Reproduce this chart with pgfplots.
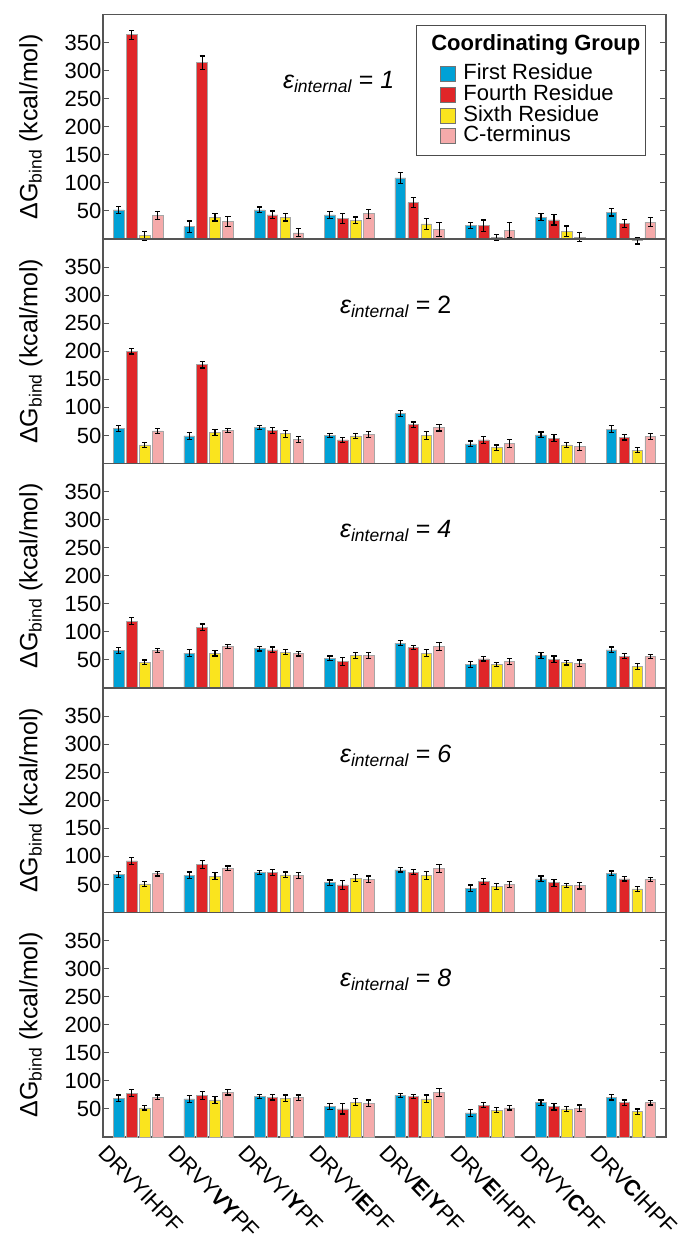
\documentclass[border=0pt]{standalone}
\usepackage{pgfplots}
\pgfplotsset{compat=1.18}
\usepackage{pgfplotstable}
\usepackage{fontspec}
\setmainfont{Liberation Sans}

\definecolor{cBlue}{RGB}{0,161,214}
\definecolor{cRed}{RGB}{224,38,40}
\definecolor{cYel}{RGB}{250,228,30}
\definecolor{cPink}{RGB}{245,170,170}
\definecolor{axgray}{RGB}{85,85,85}

% columns: x, first, err, fourth, err, sixth, err, cterm, err
\pgfplotstableread{
x b be r re y ye p pe
1 52 6 364 8 6 8 42 7
2 22 10 314 12 39 7 31 9
3 52 5 43 7 39 7 11 7
4 43 6 36 9 33 6 45 8
5 109 10 65 9 27 10 17 13
6 24 6 24 10 3 5 16 13
7 39 6 34 9 14 9 3 8
8 48 7 28 7 -3 6 30 8
}\tA
\pgfplotstableread{
x b be r re y ye p pe
1 62 5 200 5 33 4 58 4
2 49 6 176 6 55 5 59 4
3 64 4 59 5 53 6 43 5
4 50 4 42 5 49 5 52 5
5 89 5 69 5 50 7 64 6
6 35 5 42 6 28 5 36 7
7 51 5 45 6 33 5 30 7
8 61 6 47 5 24 5 48 5
}\tB
\pgfplotstableread{
x b be r re y ye p pe
1 67 5 119 6 46 4 67 4
2 62 6 108 6 62 5 74 4
3 70 4 68 5 64 5 61 4
4 53 4 47 7 58 5 58 5
5 80 4 72 4 62 6 74 7
6 42 5 52 4 42 4 47 5
7 58 5 51 6 45 4 44 6
8 68 5 57 5 38 5 56 4
}\tC
\pgfplotstableread{
x b be r re y ye p pe
1 68 5 92 6 51 4 69 4
2 66 6 85 7 65 6 79 4
3 71 4 71 5 67 5 66 5
4 53 5 49 8 61 6 59 6
5 76 4 72 4 66 7 78 7
6 43 6 55 5 46 5 50 5
7 60 5 53 6 48 4 48 6
8 70 4 60 4 42 5 59 4
}\tD
\pgfplotstableread{
x b be r re y ye p pe
1 69 6 78 6 52 4 71 4
2 68 6 74 7 66 6 80 5
3 72 4 71 5 69 6 70 5
4 54 5 50 9 62 6 60 6
5 74 4 72 4 68 7 79 7
6 43 6 57 5 48 5 52 4
7 61 5 54 6 50 5 51 6
8 71 5 61 5 45 5 61 4
}\tE

\pgfplotsset{
  panel/.style={
    scale only axis, width=563pt, height=224.5pt,
    xmin=0.5, xmax=8.5, ymin=0, ymax=400,
    clip=false,
    axis line style={draw=axgray, line width=1.3pt},
    ytick={50,100,...,350},
    tick align=inside, major tick length=6pt,
    ytick style={draw=axgray, line width=1.1pt},
    xtick=\empty,
    tick label style={font=\fontsize{22}{24}\selectfont},
    yticklabel style={inner xsep=1.5pt},
    /pgf/number format/assume math mode=true,
    ylabel={ΔG\textsubscript{bind} (kcal/mol)},
    every axis y label/.style={at={(axis description cs:-0.128,0.5)}, anchor=center, rotate=90,
      font=\fontsize{25}{27}\selectfont},
  },
  mybar/.style={ybar, bar width=0.151, bar shift=0pt, draw=black!35, line width=0.6pt, fill=#1,
    legend image code/.code={\path (0pt,0pt); \draw[fill=#1, draw=black!55, line width=0.8pt] (20pt,-7.5pt) rectangle (35pt,7.5pt);},
    error bars/y dir=both, error bars/y explicit,
    error bars/error bar style={black, line width=1.1pt},
    error bars/error mark options={rotate=90, mark size=2.6pt, black, line width=1.2pt}},
}

\newcommand{\bars}[1]{%
  \addplot[mybar=cBlue] table[x expr=\thisrow{x}-0.2755, y=b, y error=be] {#1};
  \addplot[mybar=cRed] table[x expr=\thisrow{x}-0.0918, y=r, y error=re] {#1};
  \addplot[mybar=cYel] table[x expr=\thisrow{x}+0.0918, y=y, y error=ye] {#1};
  \addplot[mybar=cPink] table[x expr=\thisrow{x}+0.2755, y=p, y error=pe] {#1};
}
\newcommand{\eps}[1]{\fontsize{25}{28}\selectfont\itshape ε\textsubscript{internal}\upshape{} = #1}

\begin{document}
\begin{tikzpicture}
\path[use as bounding box] (-103pt,-110pt) rectangle (582pt,1137pt);

\begin{axis}[panel, at={(0pt,898pt)},
  legend style={at={(0.964,0.953)}, anchor=north east, draw=black!70, line width=0.8pt,
    font=\fontsize{22}{24}\selectfont, row sep=0pt, column sep=6pt, inner xsep=3pt, inner ysep=9pt,
    nodes={text height=15pt, text depth=4pt, inner ysep=0.8pt}},
  legend cell align=left]
  \addlegendimage{empty legend}
  \addlegendentry[text depth=13pt]{\hspace*{-32pt}\textbf{Coordinating Group}}
  \bars{\tA}
  \addlegendentry{First Residue}
  \addlegendentry{Fourth Residue}
  \addlegendentry{Sixth Residue}
  \addlegendentry{C-terminus}
  \node[anchor=base] at (axis cs:3.85,268) {\eps{\itshape 1}};
\end{axis}

\begin{axis}[panel, at={(0pt,673.5pt)}]
  \bars{\tB}
  \node[anchor=base] at (axis cs:4.66,268) {\eps{2}};
\end{axis}

\begin{axis}[panel, at={(0pt,449pt)}]
  \bars{\tC}
  \node[anchor=base] at (axis cs:4.66,268) {\eps{\itshape 4}};
\end{axis}

\begin{axis}[panel, at={(0pt,224.5pt)}]
  \bars{\tD}
  \node[anchor=base] at (axis cs:4.66,268) {\eps{\itshape 6}};
\end{axis}

\begin{axis}[panel, at={(0pt,0pt)},
  xtick={1,...,8}, major x tick style={draw=none},
  xticklabels={DRVYIHPF, DRVY\textbf{VY}PF, DRVYI\textbf{Y}PF, DRVYI\textbf{E}PF, DRV\textbf{E}I\textbf{Y}PF, DRV\textbf{E}IHPF, DRVYI\textbf{C}PF, DRV\textbf{C}IHPF},
  xticklabel style={font=\fontsize{22}{24}\selectfont, xshift=-30pt, yshift=-2pt, rotate=-46, anchor=north west}]
  \bars{\tE}
  \node[anchor=base] at (axis cs:4.66,268) {\eps{\itshape 8}};
\end{axis}
\end{tikzpicture}
\end{document}
